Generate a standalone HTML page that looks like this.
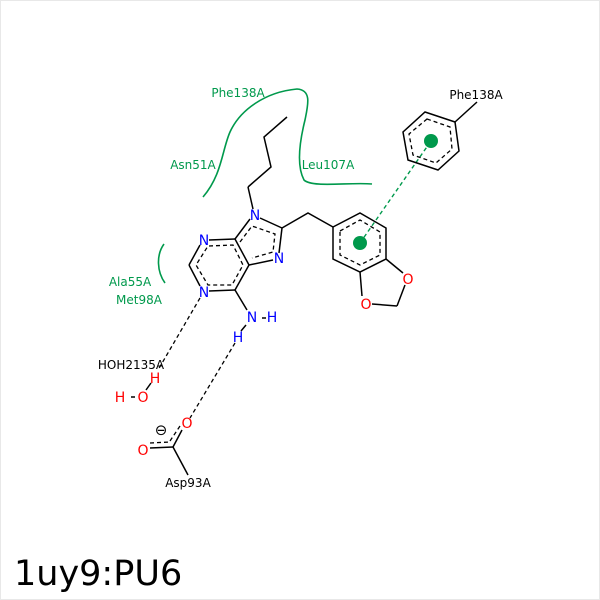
<!DOCTYPE html>
<html><head><style>html,body{margin:0;padding:0;background:#fff}svg{display:block}</style></head><body>
<svg width="600" height="600" viewBox="0 0 600 600" xmlns="http://www.w3.org/2000/svg" font-family="DejaVu Sans, Liberation Sans, sans-serif">
<rect x="0.5" y="0.5" width="599" height="599" fill="#fff" stroke="#e8e8e8"/>
<g fill="none" stroke="#00994c" stroke-width="1.6">
<path d="M203,197 C222,175 222,150 230,132 C240,110 265,92 297,89 C312,90 308,105 305,120 C300,140 296,165 304,180 C312,188 350,182 372,184"/>
<path d="M164,244 C156,255 157,272 165,283"/>
</g>
<g stroke="#00994c" stroke-width="1.4" stroke-dasharray="4,3" fill="none">
<line x1="360" y1="243" x2="431" y2="141"/>
</g>
<circle cx="360" cy="243" r="7" fill="#00994c"/>
<circle cx="431" cy="141" r="7" fill="#00994c"/>
<g fill="none" stroke="#000" stroke-width="1.5">
<line x1="209" y1="240" x2="235" y2="239"/>
<line x1="235" y1="239" x2="249" y2="265"/>
<line x1="249" y1="265" x2="235" y2="290"/>
<line x1="235" y1="290" x2="209" y2="291"/>
<line x1="200" y1="286" x2="189" y2="265"/>
<line x1="189" y1="265" x2="200" y2="245"/>
<line x1="235" y1="239" x2="250" y2="219"/>
<line x1="260" y1="218" x2="282" y2="228"/>
<line x1="282" y1="228" x2="279" y2="253"/>
<line x1="273" y1="260" x2="249" y2="265"/>
<line x1="253" y1="209" x2="248" y2="187"/>
<polyline points="248,187 271,167 264,137 287,117"/>
<polyline points="282,228 308,213 333,227"/>
<polygon points="333,227 360,213 386,228 386,259 360,272 333,259"/>
<line x1="386" y1="259" x2="403" y2="273"/>
<line x1="405" y1="285" x2="397" y2="306"/>
<line x1="397" y1="306" x2="372" y2="304"/>
<line x1="362" y1="296" x2="360" y2="272"/>
<line x1="235" y1="290" x2="247" y2="310"/>
<line x1="262" y1="318" x2="266" y2="318"/>
<line x1="246" y1="325" x2="241" y2="331"/>
<polygon points="425,112 455,122 459,151 438,170 408,160 403,132"/>
<line x1="455" y1="122" x2="477" y2="102"/>
<line x1="131" y1="397" x2="135" y2="397"/>
<line x1="146" y1="390" x2="151" y2="383"/>
<line x1="173" y1="447" x2="188" y2="475"/>
<line x1="150" y1="448" x2="173" y2="447"/>
<line x1="173" y1="447" x2="182" y2="430"/>
</g>
<g fill="none" stroke="#000" stroke-width="1.3" stroke-dasharray="4,3">
<polyline points="209,246 233,245 243,265 232,285 208,285 196,265 208,246"/>
<polyline points="240,242 252,226 275,234 273,252 252,258"/>
<polygon points="340,231 360,220 380,232 380,255 360,265 340,255"/>
<polygon points="427,119 450,127 452,149 436,163 413,155 409,134"/>
<line x1="150" y1="443" x2="170" y2="442"/>
<line x1="170" y1="441" x2="180" y2="426"/>
<line x1="200" y1="298" x2="158" y2="370"/>
<line x1="235" y1="343" x2="190" y2="418"/>
</g>
<g font-size="14" text-anchor="middle">
<g fill="#0000ff">
<text x="204" y="245">N</text><text x="204" y="297">N</text>
<text x="255" y="220">N</text><text x="279" y="263">N</text>
<text x="252" y="322">N</text><text x="272" y="322">H</text><text x="238" y="342">H</text>
</g>
<g fill="#ff0000">
<text x="408" y="284">O</text><text x="366" y="309">O</text>
<text x="155" y="383">H</text><text x="143" y="402">O</text><text x="120" y="402">H</text>
<text x="187" y="428">O</text><text x="143" y="455">O</text>
</g>
</g>
<g font-size="12" text-anchor="middle">
<g fill="#00994c">
<text x="238" y="97">Phe138A</text><text x="193" y="169">Asn51A</text>
<text x="328" y="169">Leu107A</text><text x="130" y="286">Ala55A</text><text x="139" y="304">Met98A</text>
</g>
<g fill="#000">
<text x="476" y="99">Phe138A</text><text x="131" y="369">HOH2135A</text><text x="188" y="487">Asp93A</text>
</g>
</g>
<text x="161" y="435" font-size="15" text-anchor="middle" fill="#000">⊖</text>
<text x="14" y="585" font-size="35" fill="#000">1uy9:PU6</text>
</svg>
</body></html>
